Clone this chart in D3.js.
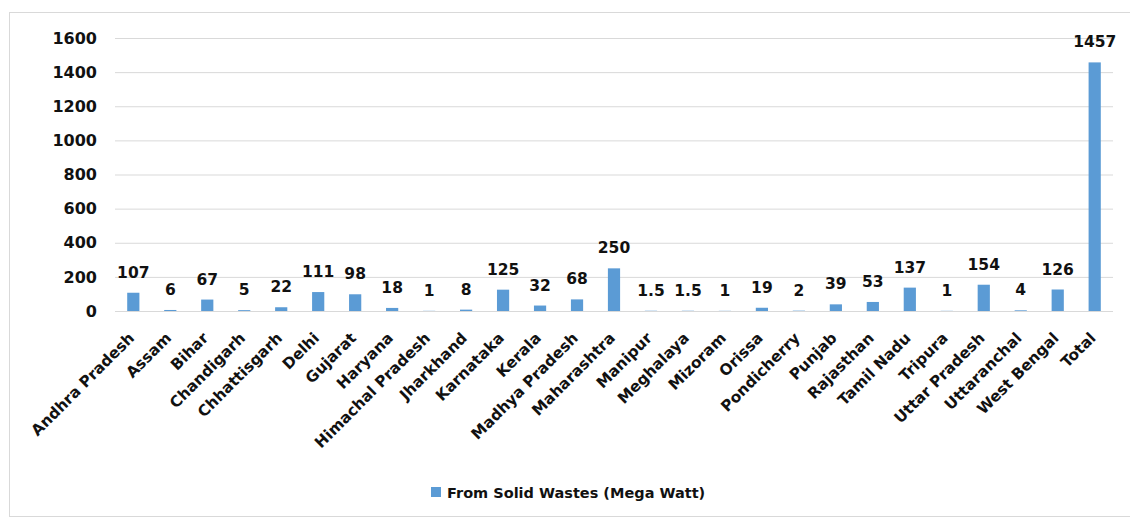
<!DOCTYPE html>
<html>
<head>
<meta charset="utf-8">
<script src="https://cdn.jsdelivr.net/npm/d3@7"></script>
<style>
  body { margin: 0; background: #fff; }
  svg text { font-family: "DejaVu Sans", "Noto Sans", sans-serif; font-weight: bold; fill: #111; }
</style>
</head>
<body>
<svg id="chart"></svg>
<script>
// State-wise power potential from solid wastes
const states = ['Andhra Pradesh', 'Assam', 'Bihar', 'Chandigarh', 'Chhattisgarh', 'Delhi', 'Gujarat',
    'Haryana', 'Himachal Pradesh', 'Jharkhand', 'Karnataka', 'Kerala', 'Madhya Pradesh', 'Maharashtra',
    'Manipur', 'Meghalaya', 'Mizoram', 'Orissa', 'Pondicherry', 'Punjab', 'Rajasthan', 'Tamil Nadu',
    'Tripura', 'Uttar Pradesh', 'Uttaranchal', 'West Bengal', 'Total'];
const megaWatt = [107, 6, 67, 5, 22, 111, 98, 18, 1, 8, 125, 32, 68, 250, 1.5, 1.5, 1, 19, 2, 39, 53, 137,
    1, 154, 4, 126, 1457];
const yTicks = [0, 200, 400, 600, 800, 1000, 1200, 1400, 1600];
const seriesName = 'From Solid Wastes (Mega Watt)';

const config = {
    width: 1130,
    height: 521,
    margin: { top: 38, right: 17, bottom: 210, left: 115 }
};

const data = states.map((s, i) => ({ state: s, value: megaWatt[i] }));

const innerW = config.width - config.margin.left - config.margin.right;
const innerH = config.height - config.margin.top - config.margin.bottom;

const svg = d3.select('#chart')
    .attr('width', config.width)
    .attr('height', config.height);

// outer chart border
svg.append('rect')
    .attr('x', 9.5).attr('y', 12.5)
    .attr('width', 1130).attr('height', 504)
    .attr('fill', 'none')
    .attr('stroke', '#d9d9d9');

const chartArea = svg.append('g')
    .attr('transform', `translate(${config.margin.left},${config.margin.top})`);

const xScale = d3.scaleBand()
    .domain(states)
    .range([0, innerW])
    .paddingInner(0.67)
    .paddingOuter(0.33);

const yScale = d3.scaleLinear()
    .domain([0, 1600])
    .range([innerH, 0]);

// gridlines + y labels
const yAxis = d3.axisLeft(yScale)
    .tickValues(yTicks)
    .tickSize(-innerW)
    .tickPadding(18)
    .tickFormat(d3.format('d'));

chartArea.append('g')
    .attr('class', 'y-axis')
    .call(yAxis)
    .call(g => g.select('.domain').remove())
    .call(g => g.selectAll('.tick line').attr('stroke', '#d9d9d9'))
    .call(g => g.selectAll('.tick text')
        .attr('font-size', 16)
        .style('fill', '#111'));

// x labels, rotated 45 degrees
const xAxis = d3.axisBottom(xScale).tickSize(0).tickPadding(0);
chartArea.append('g')
    .attr('class', 'x-axis')
    .attr('transform', `translate(0,${innerH})`)
    .call(xAxis)
    .call(g => g.select('.domain').remove())
    .call(g => g.selectAll('.tick text')
        .attr('font-size', 15.3)
        .attr('text-anchor', 'end')
        .attr('dy', 0)
        .attr('x', 0)
        .attr('y', 0)
        .attr('transform', 'translate(2,28) rotate(-45)')
        .style('fill', '#111'));

// bars
chartArea.selectAll('.bar')
    .data(data)
    .join('rect')
    .attr('class', 'bar')
    .attr('x', d => xScale(d.state))
    .attr('y', d => yScale(d.value))
    .attr('width', xScale.bandwidth())
    .attr('height', d => innerH - yScale(d.value))
    .attr('fill', '#5b9bd5');

// value labels
chartArea.selectAll('.value-label')
    .data(data)
    .join('text')
    .attr('class', 'value-label')
    .attr('x', d => xScale(d.state) + xScale.bandwidth() / 2)
    .attr('y', d => yScale(d.value) - 15)
    .attr('text-anchor', 'middle')
    .attr('font-size', 15.5)
    .text(d => d.value);

// legend
const legend = svg.append('g')
    .attr('transform', 'translate(431,487)');
legend.append('rect')
    .attr('width', 10).attr('height', 10)
    .attr('fill', '#5b9bd5');
legend.append('text')
    .attr('x', 16).attr('y', 10.5)
    .attr('font-size', 14.5)
    .text(seriesName);
</script>
</body>
</html>
